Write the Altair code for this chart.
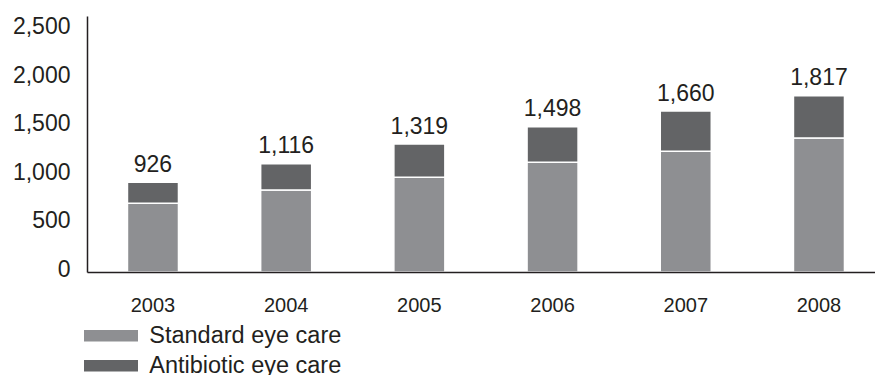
import altair as alt
import pandas as pd

years = ["2003", "2004", "2005", "2006", "2007", "2008"]
standard = [710, 845, 976, 1131, 1245, 1381]
antibiotic = [216, 271, 343, 367, 415, 436]
totals = [926, 1116, 1319, 1498, 1660, 1817]
series = ["Standard eye care", "Antibiotic eye care"]
colors = ["#8e8f92", "#636466"]

rows = []
for i, yr in enumerate(years):
    rows.append({"year": yr, "series": series[0], "value": standard[i], "order": 0})
    rows.append({"year": yr, "series": series[1], "value": antibiotic[i], "order": 1})
df = pd.DataFrame(rows)
tot = pd.DataFrame({"year": years, "total": totals,
                    "label": [f"{t:,}" for t in totals]})

TXT = "#231f20"
FONT = "Liberation Sans"

xscale = alt.Scale(paddingInner=0.617, paddingOuter=0.2665, align=0.57)
yscale = alt.Scale(domain=[0, 2640], nice=False)

x_enc = alt.X("year:N", scale=xscale, sort=years,
              axis=alt.Axis(title=None, labelAngle=0, ticks=False, labelPadding=23,
                            labelFontSize=20, labelColor=TXT, labelFont=FONT,
                            domainColor=TXT, domainWidth=1.5, grid=False, zindex=1))

bars = alt.Chart(df).mark_bar(stroke="white", strokeWidth=1.5).encode(
    x=x_enc,
    y=alt.Y("value:Q", stack="zero", scale=yscale,
            axis=alt.Axis(title=None, ticks=False, labelPadding=17, labelFontSize=23,
                          labelColor=TXT, labelFont=FONT, values=[0, 500, 1000, 1500, 2000, 2500],
                          format=",d", grid=False, domainColor=TXT, domainWidth=1.5,
                          labelOffset=-3, zindex=1)),
    color=alt.Color("series:N", scale=alt.Scale(domain=series, range=colors),
                    legend=alt.Legend(title=None, orient="none", legendX=12.25, legendY=308,
                                      direction="vertical", padding=0,
                                      symbolType="M-4.7,-1L4.7,-1L4.7,1L-4.7,1Z",
                                      symbolSize=132, symbolStrokeWidth=0,
                                      labelFontSize=23.5, labelFont=FONT, labelColor=TXT,
                                      labelOffset=26.5, rowPadding=5, labelLimit=0)),
    order=alt.Order("order:Q"),
)

labels = alt.Chart(tot).mark_text(baseline="alphabetic", dy=-10.5, fontSize=23,
                                  font=FONT, color=TXT).encode(
    x=alt.X("year:N", scale=xscale, sort=years),
    y=alt.Y("total:Q", scale=yscale),
    text="label:N",
)

chart = alt.layer(bars, labels).properties(
    width=788, height=256,
    autosize=alt.AutoSizeParams(type="none"),
    padding={"left": 87, "top": 16, "right": 0, "bottom": 103},
    background="white",
).configure_view(stroke=None)

chart.save("out.html", embed_options={"renderer": "svg", "actions": False})
